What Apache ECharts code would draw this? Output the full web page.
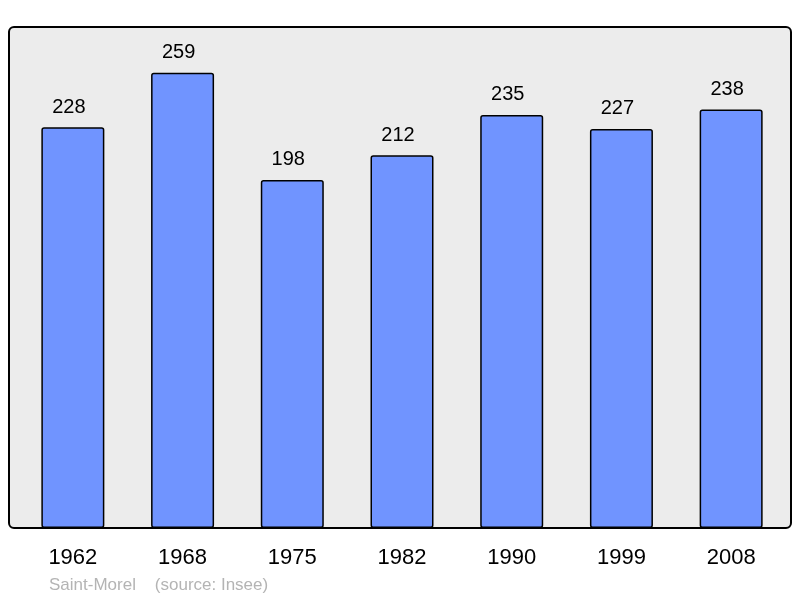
<!DOCTYPE html>
<html>
<head>
<meta charset="utf-8">
<script src="https://cdn.jsdelivr.net/npm/echarts@6/dist/echarts.min.js"></script>
<style>
html,body{margin:0;padding:0;background:#fff;}
#chart{width:800px;height:598px;}
</style>
</head>
<body>
<div id="chart"></div>
<script>
var years = ['1962', '1968', '1975', '1982', '1990', '1999', '2008'];
var population = [228, 259, 198, 212, 235, 227, 238];

var chart = echarts.init(document.getElementById('chart'));

var option = {
    animation: false,
    textStyle: { fontFamily: 'Liberation Sans, Arial, sans-serif' },
    graphic: [
        {
            type: 'rect',
            z: -10,
            shape: { x: 9, y: 27, width: 782, height: 501, r: 5 },
            style: { fill: '#ececec', stroke: '#000', lineWidth: 2 }
        },
        {
            type: 'text',
            left: 49,
            top: 577,
            style: {
                text: 'Saint-Morel    (source: Insee)',
                fill: '#b4b4b4',
                font: '17px "Liberation Sans", Arial, sans-serif'
            }
        }
    ],
    grid: { left: 18, right: 14, top: 27, bottom: 70 },
    xAxis: {
        type: 'category',
        data: years,
        axisLine: { show: false },
        axisTick: { show: false },
        axisLabel: { color: '#000', fontSize: 22, margin: 19 }
    },
    yAxis: {
        type: 'value',
        min: 0,
        max: 285,
        show: false,
        splitLine: { show: false }
    },
    series: [
        {
            type: 'bar',
            data: population,
            barWidth: 63,
            itemStyle: {
                color: '#7094ff',
                borderColor: '#000',
                borderWidth: 1.5,
                borderRadius: 2
            },
            label: {
                show: true,
                position: 'top',
                distance: 10,
                offset: [-4, 0],
                color: '#000',
                fontSize: 20
            }
        }
    ]
};

chart.setOption(option);
</script>
</body>
</html>
